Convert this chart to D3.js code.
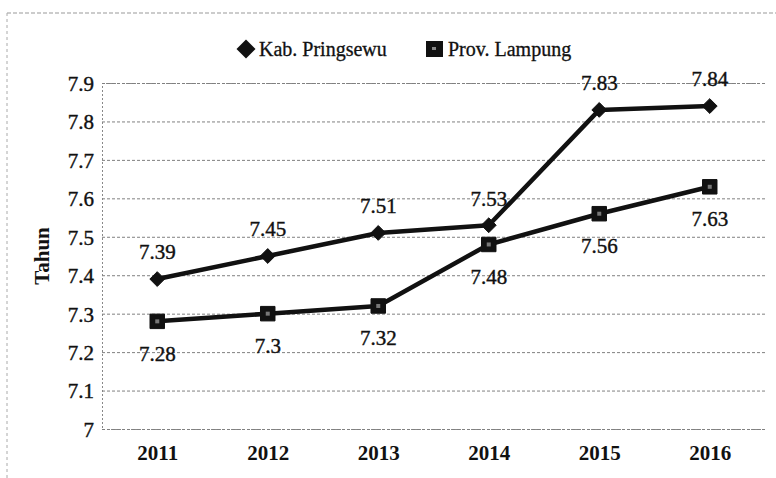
<!DOCTYPE html>
<html>
<head>
<meta charset="utf-8">
<script src="https://cdn.jsdelivr.net/npm/d3@7"></script>
<style>
  html, body { margin: 0; padding: 0; background: #fff; }
  svg text { font-family: "Liberation Serif"; fill: #111; }
</style>
</head>
<body>
<svg id="chart" width="776" height="478"></svg>
<script>
const years = ["2011", "2012", "2013", "2014", "2015", "2016"];
const pringsewu = [7.39, 7.45, 7.51, 7.53, 7.83, 7.84];
const lampung = [7.28, 7.30, 7.32, 7.48, 7.56, 7.63];
const pringsewuLabels = ["7.39", "7.45", "7.51", "7.53", "7.83", "7.84"];
const lampungLabels = ["7.28", "7.3", "7.32", "7.48", "7.56", "7.63"];
const yTicks = [7.0, 7.1, 7.2, 7.3, 7.4, 7.5, 7.6, 7.7, 7.8, 7.9];
const yTickLabels = ["7", "7.1", "7.2", "7.3", "7.4", "7.5", "7.6", "7.7", "7.8", "7.9"];
const seriesNames = ["Kab. Pringsewu", "Prov. Lampung"];
const yAxisTitle = "Tahun";

const FONT = '"Liberation Serif"';
const svg = d3.select("#chart");
const m = { left: 102, right: 765, top: 83, bottom: 429 };

// scanned-page border
svg.append("line").attr("x1", 7).attr("x2", 776).attr("y1", 13).attr("y2", 13)
  .attr("stroke", "#999").attr("stroke-width", 1).attr("stroke-dasharray", "4,2");
svg.append("line").attr("x1", 7).attr("x2", 7).attr("y1", 13).attr("y2", 478)
  .attr("stroke", "#aaa").attr("stroke-width", 1).attr("stroke-dasharray", "3,3");

const x = d3.scalePoint().domain(years).range([m.left, m.right]).padding(0.5);
const y = d3.scaleLinear().domain([7.0, 7.9]).range([m.bottom, m.top]);

// gridlines + y labels
const yAxis = d3.axisLeft(y).tickValues(yTicks)
  .tickFormat((d, i) => yTickLabels[i])
  .tickSize(-(m.right - m.left)).tickPadding(8);
const gy = svg.append("g").attr("transform", `translate(${m.left},0)`).call(yAxis);
gy.select(".domain").attr("stroke", "#888").attr("stroke-width", 1).attr("stroke-dasharray", "2,2");
gy.selectAll(".tick line").attr("stroke", "#808080").attr("stroke-width", 1).attr("stroke-dasharray", "3,2");
gy.selectAll(".tick text").attr("font-size", 21).attr("x", -8).attr("dy", "0.35em")
  .style("font-family", FONT).attr("stroke", "#111").attr("stroke-width", 0.4);

// x axis labels
const xAxis = d3.axisBottom(x).tickSize(0).tickPadding(0);
const gx = svg.append("g").attr("transform", `translate(0,${m.bottom})`).call(xAxis);
gx.select(".domain").remove();
gx.selectAll(".tick text").attr("font-size", 21).attr("font-weight", "bold")
  .attr("y", 24).attr("dy", "0.35em").style("font-family", FONT);

// y title
svg.append("text").attr("transform", "translate(42,256) rotate(-90)")
  .attr("text-anchor", "middle").attr("dy", "0.35em").style("font-family", FONT)
  .attr("font-size", 21).attr("font-weight", "bold").text(yAxisTitle);

const line = d3.line().x((d, i) => x(years[i])).y(d => y(d));

function drawSeries(vals, labels, marker, labelDy) {
  svg.append("path").datum(vals).attr("d", line)
    .attr("fill", "none").attr("stroke", "#111").attr("stroke-width", 4.5)
    .attr("stroke-linejoin", "round");
  const sym = marker === "diamond"
    ? d3.symbol().type(d3.symbolDiamond2).size(140)
    : d3.symbol().type(d3.symbolSquare).size(210);
  svg.append("g").selectAll("path").data(vals).join("path")
    .attr("transform", (d, i) => `translate(${x(years[i])},${y(d)})`)
    .attr("d", sym).attr("fill", "#111").attr("stroke", "#111").attr("stroke-width", 1);
  if (marker === "square") {
    svg.append("g").selectAll("rect").data(vals).join("rect")
      .attr("x", (d, i) => x(years[i]) - 2).attr("y", d => y(d) - 2)
      .attr("width", 4).attr("height", 4).attr("fill", "#777");
  }
  svg.append("g").selectAll("text").data(vals).join("text")
    .attr("x", (d, i) => x(years[i])).attr("y", d => y(d) + labelDy)
    .attr("dy", "0.35em").attr("text-anchor", "middle").style("font-family", FONT)
    .attr("font-size", 21).attr("stroke", "#111").attr("stroke-width", 0.4)
    .text((d, i) => labels[i]);
}

drawSeries(pringsewu, pringsewuLabels, "diamond", -27);
drawSeries(lampung, lampungLabels, "square", 32);

// legend
const lg = svg.append("g");
lg.append("path").attr("transform", "translate(246,49)")
  .attr("d", d3.symbol().type(d3.symbolDiamond2).size(230)).attr("fill", "#111");
lg.append("text").attr("x", 259).attr("y", 49).attr("dy", "0.35em").style("font-family", FONT)
  .attr("font-size", 20).attr("stroke", "#111").attr("stroke-width", 0.3).text(seriesNames[0]);
lg.append("rect").attr("x", 426).attr("y", 41).attr("width", 17).attr("height", 16).attr("fill", "#111");
lg.append("rect").attr("x", 432).attr("y", 47).attr("width", 4).attr("height", 3).attr("fill", "#888");
lg.append("text").attr("x", 448).attr("y", 49).attr("dy", "0.35em").style("font-family", FONT)
  .attr("font-size", 20).attr("stroke", "#111").attr("stroke-width", 0.3).text(seriesNames[1]);
</script>
</body>
</html>
